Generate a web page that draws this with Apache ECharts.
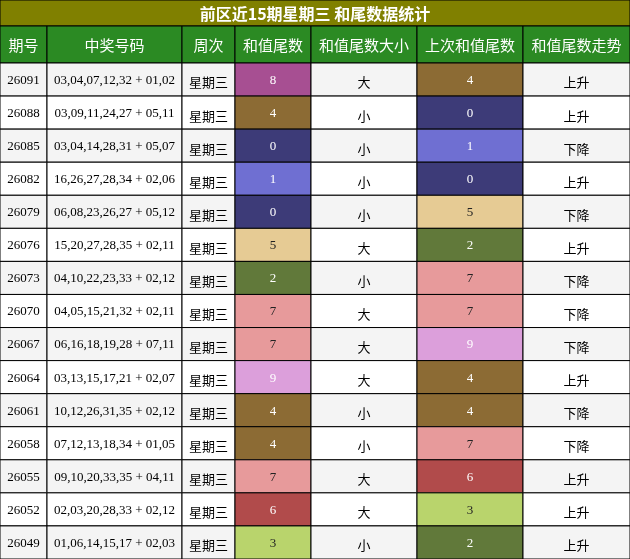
<!DOCTYPE html>
<html><head><meta charset="utf-8">
<script src="https://cdn.jsdelivr.net/npm/echarts@6/dist/echarts.min.js"></script>
<style>html,body{margin:0;padding:0;background:#fff}#main{width:630px;height:559px}</style>
</head><body><div id="main"></div>
<script>
var title = '前区近15期星期三 和尾数据统计';
var headers = ['期号','中奖号码','周次','和值尾数','和值尾数大小','上次和值尾数','和值尾数走势'];
var issues = ['26091','26088','26085','26082','26079','26076','26073','26070','26067','26064','26061','26058','26055','26052','26049'];
var numbers = ['03,04,07,12,32 + 01,02','03,09,11,24,27 + 05,11','03,04,14,28,31 + 05,07','16,26,27,28,34 + 02,06','06,08,23,26,27 + 05,12','15,20,27,28,35 + 02,11','04,10,22,23,33 + 02,12','04,05,15,21,32 + 02,11','06,16,18,19,28 + 07,11','03,13,15,17,21 + 02,07','10,12,26,31,35 + 02,12','07,12,13,18,34 + 01,05','09,10,20,33,35 + 04,11','02,03,20,28,33 + 02,12','01,06,14,15,17 + 02,03'];
var tails = [8,4,0,1,0,5,2,7,7,9,4,4,7,6,3];
var sizes = ['大','小','小','小','小','大','小','大','大','大','小','小','大','大','小'];
var prevTails = [4,0,1,0,5,2,7,7,9,4,4,7,6,3,2];
var trends = ['上升','上升','下降','上升','下降','上升','下降','下降','下降','上升','下降','下降','上升','上升','上升'];

var colX = [0,47,182,235,311,417,523,630];
var tailColor = {0:'#3d3b78',1:'#6f6fd2',2:'#61793a',3:'#b9d46c',4:'#8c6b34',5:'#e6cb94',6:'#b14b4b',7:'#e79a9b',8:'#a74f92',9:'#dc9fdb'};
var darkTail = {0:1,1:1,2:1,4:1,6:1,8:1,9:1};

var data = [];
for (var i = 0; i < issues.length; i++) {
    var row = [issues[i], numbers[i], '星期三', tails[i], sizes[i], prevTails[i], trends[i]];
    for (var c = 0; c < 7; c++) data.push([i, c, row[c]]);
}

function renderItem(params, api) {
    var r = api.value(0), c = api.value(1), v = data[params.dataIndex][2];
    var p0 = api.coord([colX[c], r]), p1 = api.coord([colX[c + 1], r + 1]);
    var fill = (r % 2 == 0) ? '#f4f4f4' : '#ffffff', txt = '#000';
    if (c == 3 || c == 5) { fill = tailColor[v]; txt = darkTail[v] ? '#fff' : '#222'; }
    var serif = (c < 2 || c == 3 || c == 5);
    return {
        type: 'group', children: [
            {type: 'rect', shape: {x: p0[0], y: p0[1], width: p1[0] - p0[0], height: p1[1] - p0[1]},
             style: {fill: fill, stroke: '#000', lineWidth: 1}},
            {type: 'text', style: {text: String(v), x: (p0[0] + p1[0]) / 2, y: (p0[1] + p1[1]) / 2 + (serif ? 1 : 3),
             align: 'center', verticalAlign: 'middle', fill: txt, fontSize: 13,
             fontFamily: serif ? 'Liberation Serif' : 'Noto Sans CJK SC'}}
        ]
    };
}

var graphics = [
    {type: 'rect', shape: {x: 0, y: 0, width: 630, height: 26}, style: {fill: '#808000', stroke: '#000'}},
    {type: 'text', style: {text: title, x: 315, y: 14, align: 'center', verticalAlign: 'middle', fill: '#fff', fontSize: 16, fontWeight: 'bold', fontFamily: 'Noto Sans CJK SC'}}
];
for (var c = 0; c < 7; c++) {
    graphics.push({type: 'rect', shape: {x: colX[c], y: 26, width: colX[c + 1] - colX[c], height: 37}, style: {fill: '#2b8a23', stroke: '#000'}});
    graphics.push({type: 'text', style: {text: headers[c], x: (colX[c] + colX[c + 1]) / 2, y: 45, align: 'center', verticalAlign: 'middle', fill: '#fff', fontSize: 15, fontFamily: 'Noto Sans CJK SC'}});
}

var myChart = echarts.init(document.getElementById('main'));
myChart.setOption({
    animation: false,
    grid: {left: 0, right: 0, top: 63, bottom: 0},
    xAxis: {type: 'value', min: 0, max: 630, show: false},
    yAxis: {type: 'value', min: 0, max: 15, inverse: true, show: false},
    graphic: graphics,
    series: [{type: 'custom', renderItem: renderItem, data: data, encode: {x: 1, y: 0}}]
});
</script></body></html>
